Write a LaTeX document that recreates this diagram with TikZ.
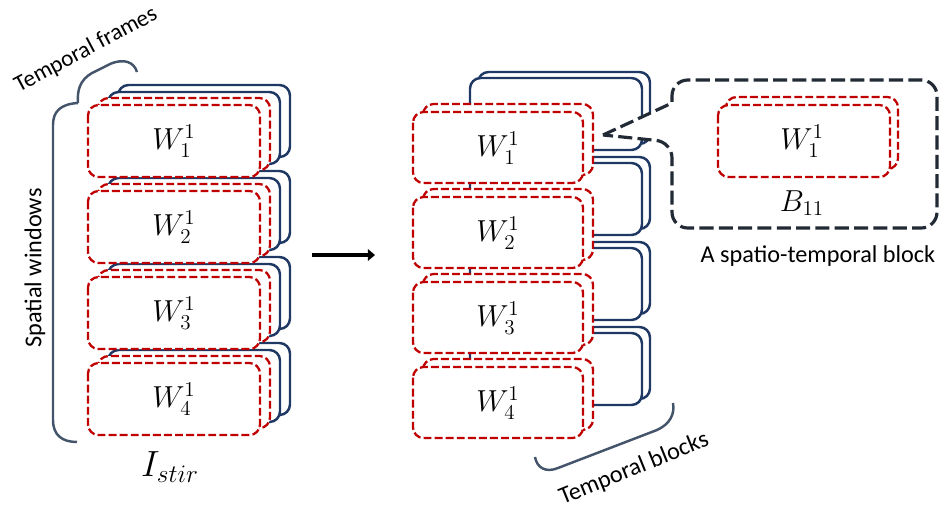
\documentclass[tikz,border=0pt]{standalone}
\usepackage{fontspec}
\newfontfamily\calfont{Carlito}
\usepackage{tikz}
\usetikzlibrary{arrows.meta}
\definecolor{winred}{HTML}{C00000}
\definecolor{winblue}{HTML}{203864}
\definecolor{calloutgray}{HTML}{222A35}
\definecolor{bracegray}{HTML}{44546A}
\begin{document}
\begin{tikzpicture}[x=0.02cm, y=-0.02cm,
  redwin/.style={draw=winred, fill=white, line width=1.3pt, dash pattern=on 4.5pt off 1.8pt, rounded corners=6pt},
  bluewin/.style={draw=winblue, fill=white, line width=1.4pt, rounded corners=6pt},
  wlabel/.style={font=\fontsize{16.5}{19}\selectfont},
  txt/.style={font=\calfont\fontsize{13.8}{16}\selectfont},
  bracket/.style={draw=bracegray, line width=1.4pt},
  callout/.style={draw=calloutgray, fill=white, line width=1.8pt, dash pattern=on 8pt off 3pt}]
\useasboundingbox (0,0) rectangle (941,508);
\filldraw[bluewin] (118,343) rectangle ++(172,72);
\filldraw[bluewin] (108,350) rectangle ++(172,72);
\filldraw[redwin] (98,356) rectangle ++(172,72);
\filldraw[redwin] (88,363) rectangle ++(172,72);
\filldraw[bluewin] (118,257) rectangle ++(172,72);
\filldraw[bluewin] (108,264) rectangle ++(172,72);
\filldraw[redwin] (98,270) rectangle ++(172,72);
\filldraw[redwin] (88,277) rectangle ++(172,72);
\filldraw[bluewin] (118,171) rectangle ++(172,72);
\filldraw[bluewin] (108,178) rectangle ++(172,72);
\filldraw[redwin] (98,184) rectangle ++(172,72);
\filldraw[redwin] (88,191) rectangle ++(172,72);
\filldraw[bluewin] (118,85) rectangle ++(172,72);
\filldraw[bluewin] (108,92) rectangle ++(172,72);
\filldraw[redwin] (98,98) rectangle ++(172,72);
\filldraw[redwin] (88,105) rectangle ++(172,72);
\node[wlabel] (lw1) at (174,141) {$W_1^1$};
\node[wlabel] (lw2) at (174,227) {$W_2^1$};
\node[wlabel] (lw3) at (174,313) {$W_3^1$};
\node[wlabel] (lw4) at (174,399) {$W_4^1$};
\node[font=\fontsize{20}{23}\selectfont] (istir) at (170,467) {$I_{stir}$};
\draw[bracket] (78,103) .. controls (60,104) and (53,112) .. (53,125) -- (53,420) .. controls (53,435) and (62,442) .. (77,442);
\draw[bracket] (78,103) .. controls (77,90) and (80,80) .. (92,73) -- (110,64) .. controls (124,58) and (134,62) .. (137,72);
\node[txt, rotate=28, font=\calfont\fontsize{13.2}{16}\selectfont] (tframes) at (86,50) {Temporal frames};
\node[txt, rotate=90] (swindows) at (35,268) {Spatial windows};
\coordinate (arrS) at (312,255);
\coordinate (arrE) at (375,255);
\draw[line width=2.6pt, -{Triangle[length=4pt,width=6.5pt]}] (arrS) -- (arrE);
\filldraw[bluewin] (478,72) rectangle ++(172,72);
\filldraw[bluewin] (470,78) rectangle ++(172,72);
\filldraw[bluewin] (478,157) rectangle ++(172,72);
\filldraw[bluewin] (470,163) rectangle ++(172,72);
\filldraw[bluewin] (478,242) rectangle ++(172,72);
\filldraw[bluewin] (470,248) rectangle ++(172,72);
\filldraw[bluewin] (478,327) rectangle ++(172,72);
\filldraw[bluewin] (470,333) rectangle ++(172,72);
\filldraw[redwin] (423,104) rectangle ++(170,71);
\filldraw[redwin] (413,112) rectangle ++(170,71);
\filldraw[redwin] (423,189) rectangle ++(170,71);
\filldraw[redwin] (413,197) rectangle ++(170,71);
\filldraw[redwin] (423,274) rectangle ++(170,71);
\filldraw[redwin] (413,282) rectangle ++(170,71);
\filldraw[redwin] (423,359) rectangle ++(170,71);
\filldraw[redwin] (413,367) rectangle ++(170,71);
\node[wlabel] (rw1) at (498,148) {$W_1^1$};
\node[wlabel] (rw2) at (498,233) {$W_2^1$};
\node[wlabel] (rw3) at (498,318) {$W_3^1$};
\node[wlabel] (rw4) at (498,403) {$W_4^1$};
\draw[bracket] (535,457) .. controls (537,468) and (546,473) .. (558,468) -- (657,430) .. controls (670,424) and (675,414) .. (673,403);
\node[txt, rotate=22] (tblocks) at (634,469) {Temporal blocks};
\filldraw[callout] (603,135) -- (672,103) [rounded corners=9pt] -- (672,80) -- (937,80) -- (937,228) -- (672,228) -- (672,142) [sharp corners] -- cycle;
\filldraw[redwin] (726,97) rectangle ++(172,72);
\filldraw[redwin] (718,105) rectangle ++(172,72);
\node[wlabel] (bw1) at (802,141) {$W_1^1$};
\node[wlabel] (b11) at (802,203) {$B_{11}$};
\node[txt] (stblock) at (818,256) {A spatio-temporal block};
\end{tikzpicture}
\end{document}
